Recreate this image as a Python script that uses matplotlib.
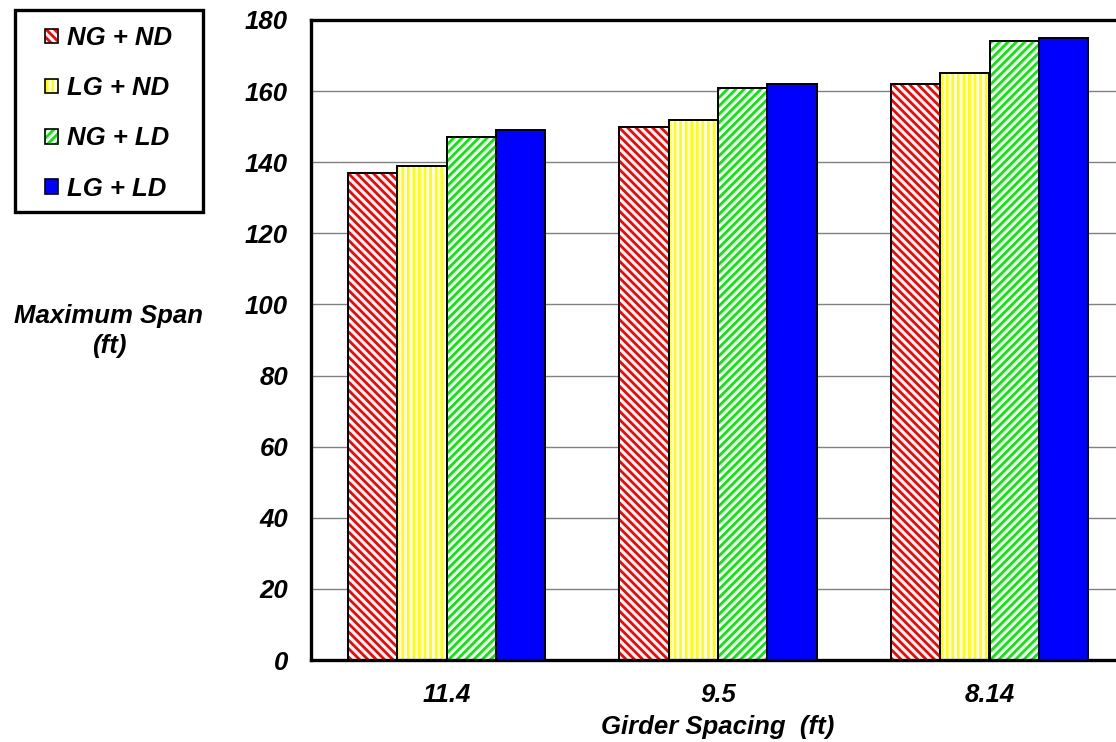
import numpy as np
import matplotlib
matplotlib.use("Agg")
import matplotlib.pyplot as plt
from matplotlib.patches import Patch, Rectangle
from matplotlib.legend_handler import HandlerTuple

categories = ["11.4", "9.5", "8.14"]
series_names = ["NG + ND", "LG + ND", "NG + LD", "LG + LD"]
ng_nd = [137, 150, 162]
lg_nd = [139, 152, 165]
ng_ld = [147, 161, 174]
lg_ld = [149, 162, 175]
yticks = [0, 20, 40, 60, 80, 100, 120, 140, 160, 180]

plt.rcParams['font.family'] = ['Liberation Sans', 'DejaVu Sans']
plt.rcParams['hatch.linewidth'] = 2.0
FS = 18.5

fig = plt.figure(figsize=(11.16, 7.42), dpi=100)
W, H = 1116, 742
ax = fig.add_axes([311 / W, 82 / H, 814.2 / W, 640 / H])

series = [ng_nd, lg_nd, ng_ld, lg_ld]
styles = [
    dict(face='white', hcolor='red', hatch='\\\\\\\\'),
    dict(face='white', hcolor='#ffff00', hatch='|||'),
    dict(face='white', hcolor='#00ee00', hatch='////'),
    dict(face='#0000ff', hcolor='#0000ff', hatch=None),
]
x = np.arange(len(categories))
w = 1 / 5.5
handles = []
for i, (vals, st) in enumerate(zip(series, styles)):
    xs = x + (i - 1.5) * w
    if st['hatch']:
        ax.bar(xs, vals, w, facecolor=st['face'], edgecolor=st['hcolor'],
               hatch=st['hatch'], linewidth=0, zorder=2)
        ax.bar(xs, vals, w, facecolor='none', edgecolor='black', linewidth=1.4, zorder=3)
        h = (Patch(facecolor=st['face'], edgecolor=st['hcolor'], hatch=st['hatch'], linewidth=0),
             Patch(facecolor='none', edgecolor='black', linewidth=1.2))
    else:
        ax.bar(xs, vals, w, facecolor=st['face'], edgecolor='black', linewidth=1.4, zorder=3)
        h = (Patch(facecolor=st['face'], edgecolor='black', linewidth=1.2),)
    handles.append(h)

ax.set_xlim(-0.5, len(categories) - 0.5)
ax.set_ylim(0, 180)
ax.set_yticks(yticks)
ax.set_xticks(x)
ax.set_xticklabels(categories)
ax.tick_params(length=0, pad=16.5, labelsize=FS)
for lab in ax.get_xticklabels() + ax.get_yticklabels():
    lab.set_fontweight('bold')
    lab.set_fontstyle('italic')
ax.yaxis.grid(True, color='#808080', linewidth=1.0)
ax.set_axisbelow(True)
for s in ['left', 'bottom', 'top', 'right']:
    ax.spines[s].set_linewidth(2.4)
    ax.spines[s].set_color('black')

fig.text(718 / W, 1 - 734 / H, "Girder Spacing  (ft)", ha='center', va='baseline',
         fontsize=FS, fontweight='bold', fontstyle='italic')
fig.text(109 / W, 1 - 331 / H, "Maximum Span\n(ft)", ha='center', va='center',
         multialignment='center', linespacing=1.35,
         fontsize=FS, fontweight='bold', fontstyle='italic')

# legend box
fig.patches.append(Rectangle((15 / W, 1 - 212 / H), 188 / W, 202 / H,
                             transform=fig.transFigure, facecolor='white',
                             edgecolor='black', linewidth=2.4, zorder=5))
leg = fig.legend(handles, series_names, loc='upper left',
                 bbox_to_anchor=(45 / W, 1 - 26 / H), bbox_transform=fig.transFigure,
                 borderaxespad=0, borderpad=0, frameon=False,
                 handlelength=0.5, handleheight=0.5, handletextpad=0.35,
                 labelspacing=1.02,
                 handler_map={tuple: HandlerTuple(ndivide=1, pad=0)},
                 prop=dict(size=FS, weight='bold', style='italic'))
leg.set_zorder(6)

fig.savefig("out.png", dpi=100)
